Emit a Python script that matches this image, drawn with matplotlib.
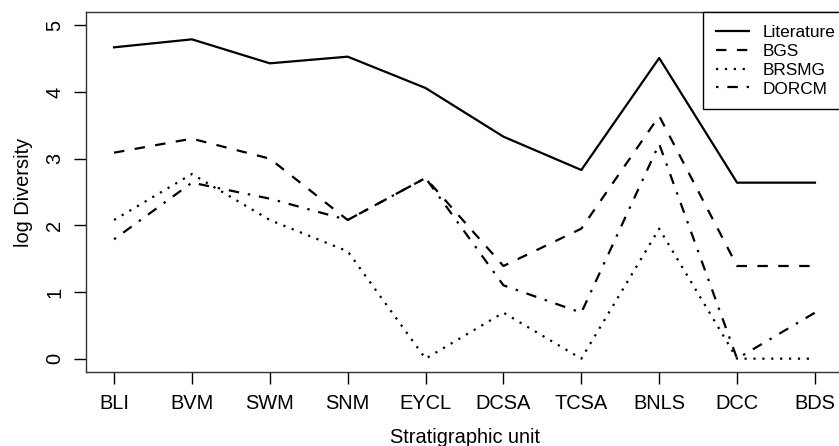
import matplotlib
matplotlib.use("Agg")
import matplotlib.pyplot as plt

plt.rcParams["font.family"] = ["Liberation Sans", "DejaVu Sans"]

units = ["BLI", "BVM", "SWM", "SNM", "EYCL", "DCSA", "TCSA", "BNLS", "DCC", "BDS"]
literature = [4.67, 4.79, 4.43, 4.53, 4.06, 3.33, 2.83, 4.51, 2.64, 2.64]
bgs = [3.09, 3.30, 3.00, 2.08, 2.71, 1.39, 1.95, 3.64, 1.39, 1.39]
brsmg = [2.08, 2.77, 2.08, 1.61, 0.0, 0.69, 0.0, 1.95, 0.0, 0.0]
dorcm = [1.79, 2.64, 2.40, 2.08, 2.71, 1.10, 0.69, 3.22, 0.0, 0.69]

W, H = 839, 446
fig = plt.figure(figsize=(W / 100, H / 100), dpi=100)
# plot region in pixels: left 86, top 12, right 843 (cut off), bottom 372
ax = fig.add_axes([86 / W, 1 - 372 / H, (843 - 86) / W, 360 / H])

x = list(range(1, len(units) + 1))
lw = 1.6
ax.plot(x, literature, color="black", lw=lw, linestyle="-", label="Literature")
ax.plot(x, bgs, color="black", lw=lw, linestyle=(0, (4.7, 4.7)), label="BGS")
ax.plot(x, brsmg, color="black", lw=lw, linestyle=(0, (1, 3)), label="BRSMG")
ax.plot(x, dorcm, color="black", lw=lw, linestyle=(0, (1.1, 4, 4.7, 4)), label="DORCM")

ax.set_xlim(0.64, 10.36)
ax.set_ylim(-0.2, 5.2)
ax.set_xticks(x)
ax.set_xticklabels(units)
ax.set_yticks([0, 1, 2, 3, 4, 5])
ax.set_yticklabels(["0", "1", "2", "3", "4", "5"], rotation=90, va="center")

ax.tick_params(axis="both", direction="out", length=8.6, width=1.0, labelsize=14.4, colors="black")
ax.tick_params(axis="x", pad=7)
ax.tick_params(axis="y", pad=7)
for s in ax.spines.values():
    s.set_linewidth(1.0)
    s.set_color("#333333")

ax.set_xlabel("Stratigraphic unit", fontsize=14.4, labelpad=11)
ax.set_ylabel("log Diversity", fontsize=14.4, labelpad=9)

leg = ax.legend(loc="upper left", bbox_to_anchor=(703 / W, 1 - 12 / H),
                bbox_transform=fig.transFigure, borderaxespad=0,
                fontsize=12.4, handlelength=1.9, handletextpad=0.8,
                labelspacing=0.22, borderpad=0.75, fancybox=False, framealpha=1)
leg.get_frame().set_edgecolor("black")
leg.get_frame().set_linewidth(1.0)

fig.savefig("out.png", dpi=100)
